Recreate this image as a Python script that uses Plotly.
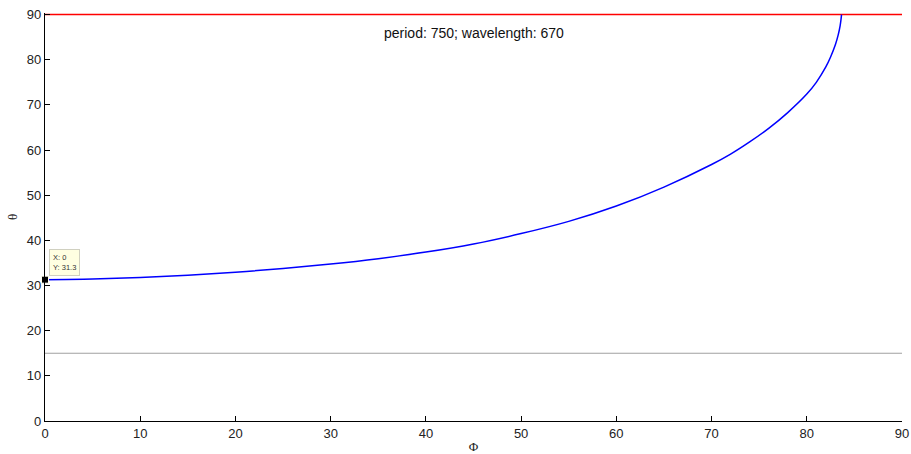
import plotly.graph_objects as go

# Diffraction angle theta versus azimuth Phi (degrees)
phi = [0, 5, 10, 15, 20, 25, 30, 35, 40, 45, 50, 55, 60, 65, 70, 72, 74, 76,
       78, 80, 81, 82, 82.5, 83, 83.3, 83.5, 83.6, 83.65]
theta = [31.3, 31.45, 31.8, 32.3, 32.95, 33.75, 34.75, 35.95, 37.4, 39.2, 41.5,
         44.2, 47.6, 51.8, 56.8, 59.1, 61.8, 64.8, 68.3, 72.4, 75.0, 78.4, 80.6,
         83.3, 85.5, 87.5, 89.0, 90.0]

# Reference levels
upper_limit = 90
lower_limit = 15
x_span = [0, 90]

# Data cursor
tip_x = 0
tip_y = 31.3

ticks = [0, 10, 20, 30, 40, 50, 60, 70, 80, 90]

fig = go.Figure()

fig.add_trace(go.Scatter(x=x_span, y=[upper_limit, upper_limit], mode="lines",
                         line=dict(color="#ff0000", width=1.5), hoverinfo="skip"))
fig.add_trace(go.Scatter(x=x_span, y=[lower_limit, lower_limit], mode="lines",
                         line=dict(color="#a0a0a0", width=1.2), hoverinfo="skip"))
fig.add_trace(go.Scatter(x=phi, y=theta, mode="lines",
                         line=dict(color="#0000ff", width=1.5, shape="spline", smoothing=1.0)))
fig.add_trace(go.Scatter(x=[tip_x], y=[tip_y], mode="markers", cliponaxis=False,
                         marker=dict(symbol="square", size=7, color="black",
                                     line=dict(color="#fffff0", width=1))))

fig.add_annotation(x=tip_x, y=tip_y, xref="x", yref="y",
                   text=f"X: {tip_x}<br>Y: {tip_y}", showarrow=False,
                   xanchor="left", yanchor="bottom", xshift=4, yshift=4, align="left",
                   font=dict(family="Liberation Sans, Arial", size=7.5, color="#333333"),
                   bgcolor="#ffffe1", bordercolor="#d0d0c0", borderwidth=1, borderpad=3)

fig.add_annotation(x=45, y=86.0, xref="x", yref="y",
                   text="period: 750; wavelength: 670", showarrow=False,
                   font=dict(family="Liberation Sans, Arial", size=14, color="#111111"))

axis_common = dict(showgrid=False, zeroline=False, showline=True, linecolor="black",
                   linewidth=1.2, ticks="inside", ticklen=5, tickcolor="black",
                   tickwidth=1, mirror=False, automargin=False,
                   tickfont=dict(family="Liberation Sans, Arial", size=13, color="#222222"))

fig.update_xaxes(range=[0, 90], tickvals=ticks,
                 title=dict(text="Φ", standoff=2,
                            font=dict(family="Liberation Serif, Times New Roman", size=13, color="#222222")),
                 **axis_common)
fig.update_yaxes(range=[0, 90.35], tickvals=ticks,
                 title=dict(text="θ", standoff=6,
                            font=dict(family="Liberation Serif, Times New Roman", size=13, color="#222222")),
                 **axis_common)

fig.update_layout(width=911, height=454, showlegend=False,
                  paper_bgcolor="white", plot_bgcolor="white",
                  margin=dict(l=45, r=9, t=13, b=33))

fig.write_html("out.html")
